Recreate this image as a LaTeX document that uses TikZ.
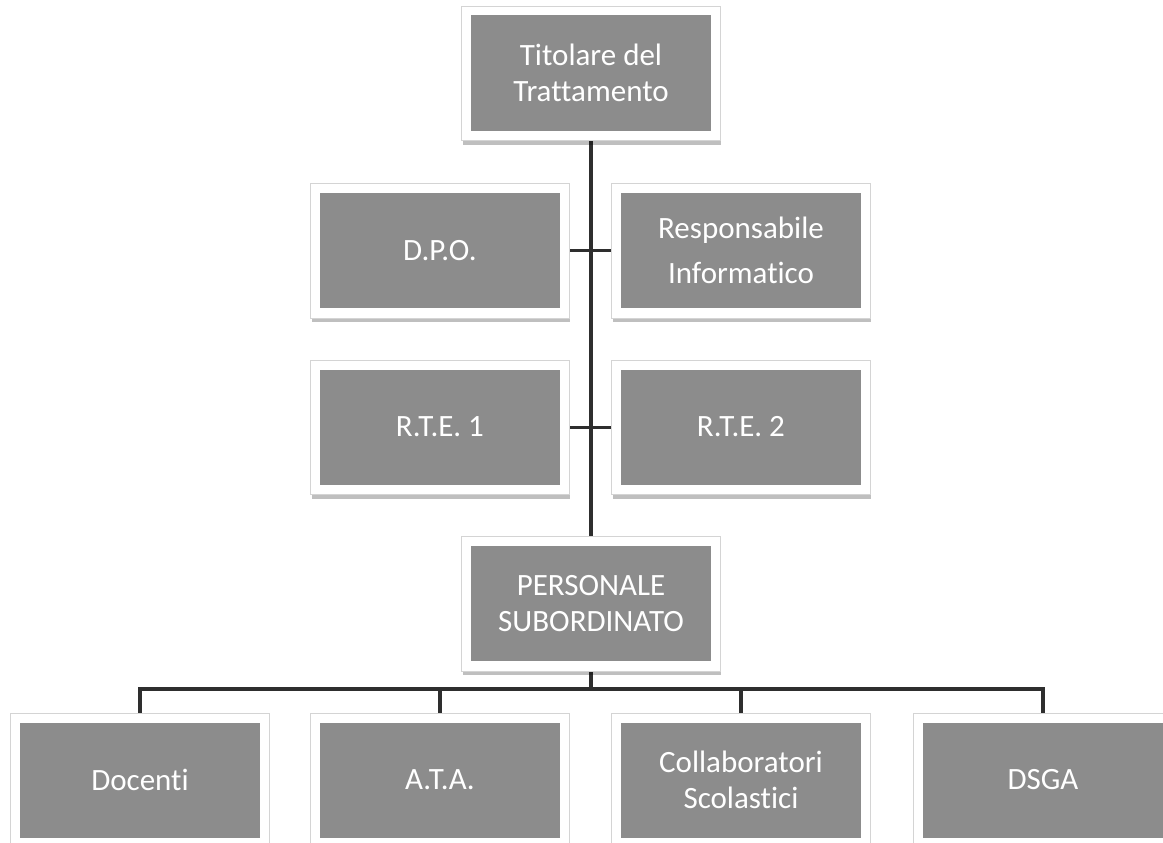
\documentclass[tikz,border=0pt]{standalone}
\usepackage{fontspec}
\setmainfont[Ligatures=NoCommon]{Carlito}
\usetikzlibrary{backgrounds}
\definecolor{boxgray}{HTML}{8C8C8C}
\definecolor{framegray}{HTML}{D4D4D4}
\definecolor{linegray}{HTML}{2E2E2E}
\tikzset{
  orgbox/.style={fill=boxgray, text=white, minimum width=240pt, minimum height=115pt,
    inner sep=0pt, align=center, font=\fontsize{31}{36}\selectfont},
  conn/.style={draw=linegray, line width=4pt},
  sideconn/.style={draw=linegray, line width=3pt},
  framebox/.style={fill=white, draw=framegray, line width=1pt},
  shadowbox/.style={fill=black, fill opacity=0.25, draw=none}
}
\newcommand{\orgframe}[1]{%
  \fill[shadowbox] ([xshift=-8pt,yshift=7pt]#1.north west) rectangle ([xshift=10pt,yshift=-14pt]#1.south east);
  \draw[framebox] ([xshift=-9pt,yshift=9pt]#1.north west) rectangle ([xshift=9pt,yshift=-10pt]#1.south east);
}
\begin{document}
\begin{tikzpicture}[x=1pt,y=-1pt]
\useasboundingbox (0,0) rectangle (1163,843);
\clip (0,0) rectangle (1163,843);
\node[orgbox] (tit) at (591,73) {Titolare del\\Trattamento};
\node[orgbox] (dpo) at (440,250.5) {D.P.O.};
\node[orgbox] (resp) at (741,250.5) {Responsabile\\[9pt]Informatico};
\node[orgbox] (rte1) at (440,427) {R.T.E. 1};
\node[orgbox] (rte2) at (741,427) {R.T.E. 2};
\node[orgbox] (pers) at (591,603.5) {PERSONALE\\SUBORDINATO};
\node[orgbox] (doc) at (140,780) {Docenti};
\node[orgbox] (ata) at (440,780) {A.T.A.};
\node[orgbox] (coll) at (741,780) {Collaboratori\\Scolastici};
\node[orgbox] (dsga) at (1043,780) {DSGA};
\coordinate (bus) at (0,689);
\begin{scope}[on background layer]
  \draw[conn] (tit.south) -- (pers.north);
  \draw[sideconn] (dpo.east) -- (resp.west);
  \draw[sideconn] (rte1.east) -- (rte2.west);
  \draw[conn] (pers.south) -- (pers.south |- bus);
  \draw[conn] (doc.north) -- (doc.north |- bus) -- (dsga.north |- bus) -- (dsga.north);
  \draw[conn] (ata.north) -- (ata.north |- bus);
  \draw[conn] (coll.north) -- (coll.north |- bus);
  \orgframe{tit}
  \orgframe{dpo}
  \orgframe{resp}
  \orgframe{rte1}
  \orgframe{rte2}
  \orgframe{pers}
  \orgframe{doc}
  \orgframe{ata}
  \orgframe{coll}
  \orgframe{dsga}
\end{scope}
\end{tikzpicture}
\end{document}
